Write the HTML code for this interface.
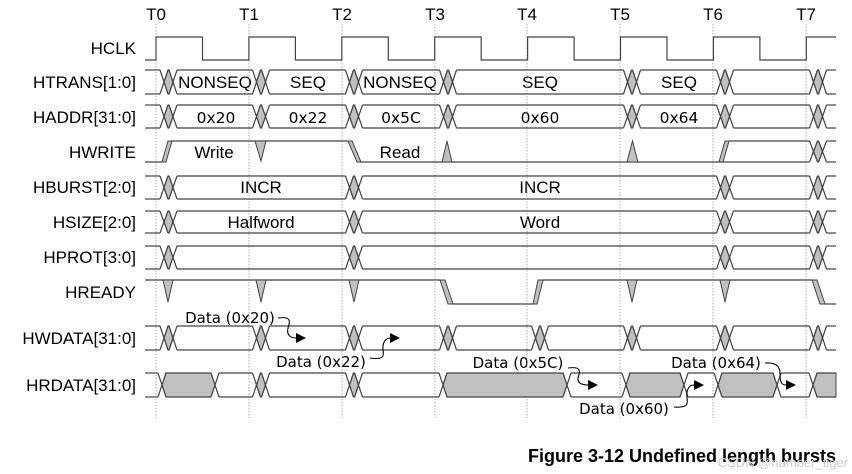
<!DOCTYPE html>
<html><head><meta charset="utf-8"><style>
body{margin:0;background:#fff}
svg{display:block}
.s{font-family:"Liberation Sans",sans-serif;font-size:17px;fill:#000}
.v{font-family:"Liberation Sans",sans-serif;font-size:17px;fill:#000}
.h{font-family:"DejaVu Sans",sans-serif;font-size:15.5px;fill:#000}
.d{font-family:"DejaVu Sans",sans-serif;font-size:15px;fill:#000}
</style></head><body>
<svg id="g" width="852" height="474" viewBox="0 0 852 474" xmlns="http://www.w3.org/2000/svg">
<g class="s" text-anchor="middle">
<text x="156" y="20">T0</text><text x="249" y="20">T1</text><text x="342" y="20">T2</text><text x="435" y="20">T3</text>
<text x="527" y="20">T4</text><text x="620" y="20">T5</text><text x="713" y="20">T6</text><text x="806" y="20">T7</text>
</g>
<g class="s" text-anchor="end">
<text x="136" y="54">HCLK</text>
<text x="136" y="88">HTRANS[1:0]</text>
<text x="136" y="123">HADDR[31:0]</text>
<text x="136" y="158">HWRITE</text>
<text x="136" y="193">HBURST[2:0]</text>
<text x="136" y="228">HSIZE[2:0]</text>
<text x="136" y="263">HPROT[3:0]</text>
<text x="136" y="298">HREADY</text>
<text x="136" y="344">HWDATA[31:0]</text>
<text x="136" y="391">HRDATA[31:0]</text>
</g>
<g class="v" text-anchor="middle">
<text x="215" y="88">NONSEQ</text><text x="308" y="88">SEQ</text><text x="400" y="88">NONSEQ</text>
<text x="540" y="88">SEQ</text><text x="679" y="88">SEQ</text>
<text x="214" y="158">Write</text><text x="400" y="158">Read</text>
<text x="261" y="193">INCR</text><text x="540" y="193">INCR</text>
<text x="261" y="228">Halfword</text><text x="540" y="228">Word</text>
</g>
<g class="h" text-anchor="middle">
<text x="216" y="123">0x20</text><text x="308" y="123">0x22</text><text x="401" y="123">0x5C</text>
<text x="540" y="123">0x60</text><text x="679" y="123">0x64</text>
</g>
<g class="d" text-anchor="middle">
<text x="230" y="323">Data (0x20)</text>
<text x="321" y="367">Data (0x22)</text>
<text x="518" y="368">Data (0x5C)</text>
<text x="624" y="414">Data (0x60)</text>
<text x="716" y="368">Data (0x64)</text>
</g>
<text x="836" y="462" text-anchor="end" style="font-family:'Liberation Sans',sans-serif;font-size:18px;font-weight:bold">Figure 3-12 Undefined length bursts</text>
<text x="848" y="467" text-anchor="end" style="font-family:'Liberation Sans',sans-serif;font-size:13px;fill:#ccc">CSDN @number_tiger</text>
<g id="w"></g>
</svg>
<script>
var W=document.getElementById('w'),o='';
function L(pts,c,f){o+='<polyline points="'+pts+'" fill="'+(f||'none')+'" stroke="'+(c||'#444')+'" stroke-width="1.2"/>';}
function P(pts){o+='<polygon points="'+pts+'" fill="#c0c0c0" stroke="#444" stroke-width="1"/>';}
var T=[156,249,342,435,527,620,713,806];
T.forEach(function(x){o+='<line x1="'+x+'" y1="24" x2="'+x+'" y2="418" stroke="#999" stroke-width="0.8" stroke-dasharray="1.5,1.5"/>';});
var c='145,60 156,60';
for(var i=0;i<8;i++){var a=156+i*92.9;c+=' '+a+',37 '+(a+46.5)+',37 '+(a+46.5)+',60 '+(a+92.9)+',60';}
L(c.split(' ').filter(function(p){return parseFloat(p)<=836}).join(' ')+' 836,37');
function bus(t,b,xs,gray,start,end){
 start=start||145;end=end||836;var m=(t+b)/2,w=4;
 var pts=[start].concat(xs).concat([end]);
 for(var i=0;i<pts.length-1;i++){
  var x0=pts[i]+(i==0?0:w),x1=pts[i+1]-(i==pts.length-2?0:w);
  if(gray.indexOf(i)>=0){P((i==0?x0+','+t:pts[i]+','+m+' '+x0+','+t)+' '+x1+','+t+' '+(i==pts.length-2?x1+','+b:pts[i+1]+','+m+' '+x1+','+b)+' '+x0+','+b);}
  L(x0+','+t+' '+x1+','+t);L(x0+','+b+' '+x1+','+b);
 }
 xs.forEach(function(p){L((p-w)+','+t+' '+(p+w)+','+b);L((p-w)+','+b+' '+(p+w)+','+t);});
}
function xx(cs){var r=[];cs.forEach(function(c){r.push(c-4.5,c+4.5)});return r;}
function gi(n){var r=[];for(var i=0;i<n;i++)r.push(2*i+1);return r;}
var A=[168.5,261,354,448,632,725,818];
bus(70,94,xx(A),gi(7));
bus(105,128,xx(A),gi(7));
var B=[168.5,354,725,818];
bus(176,199,xx(B),gi(4));
bus(211,233,xx(B),gi(4));
bus(246,269,xx(B),gi(4));
var D=[168.5,261,354,448,540,632,725,818];
bus(326,350,xx(D),gi(8));
var R=[162,215,256.5,265.5,349.5,358.5,443,567,626,684,718,777,813];
bus(373,397,R,[1,3,5,7,9,11,13]);
L('145,162 162,162');P('162,162 166,162 172,141 168,141');
L('172,141 348,141');P('348,141 352,141 361,162 357,162');
L('361,162 809.5,162');L('729,141 809.5,141');
P('255,141 266,141 261,161');
P('442,162 452,162 447,141');
P('627,162 638,162 632.5,141');
P('719,162 723,162 729,141 725,141');
bus(141,162,[813.5,822.5],[1],809.5,836);
L('145,280 440,280');L('453,304 533,304');L('543,280 812,280');L('825,304 836,304');
[168,261,354,632,725].forEach(function(x){P((x-5)+',280 '+(x+5)+',280 '+x+',302');});
P('440,280 445,280 453,304 448,304');
P('533,304 537,304 543,280 538,280');
P('812,280 817,280 825,304 820,304');
function arr(d,hx,hy){o+='<path d="'+d+'" fill="none" stroke="#000" stroke-width="1.1"/>';o+='<polygon points="'+hx+','+hy+' '+(hx-10)+','+(hy-5)+' '+(hx-10)+','+(hy+5)+'" fill="#000"/>';}
arr('M278,318 C292,316 290,322 288,328 C286,336 292,338 296,338',306,338);
arr('M370,358 C384,360 384,356 383,350 C382,340 388,338 390,338',400,338);
arr('M568,368 C582,366 580,372 578,378 C577,384 584,385 588,385',598,385);
arr('M674,407 C688,408 688,404 687,398 C686,388 690,385 694,385',704,385);
arr('M765,363 C778,362 780,368 780,374 C780,383 782,385 786,385',796,385);
W.innerHTML=o;
</script>
</body></html>
